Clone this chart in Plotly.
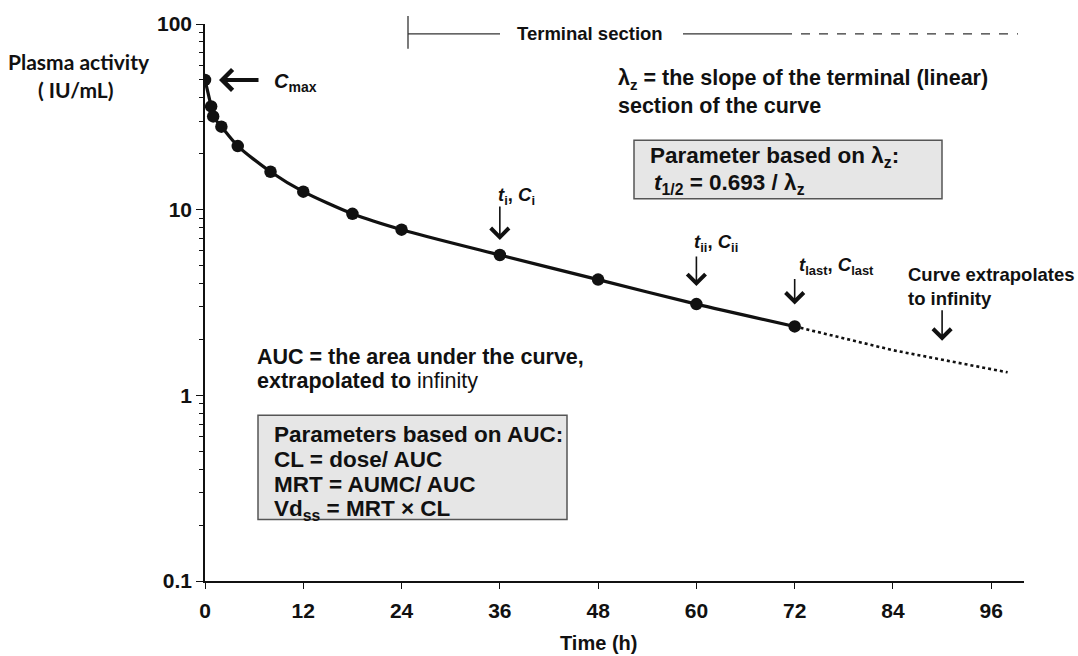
import numpy as np
import plotly.graph_objects as go

# ---- data ----
time_h = [0, 0.75, 1, 2, 4, 8, 12, 18, 24, 36, 48, 60, 72]
activity = [50, 36, 31.8, 28, 22, 16, 12.5, 9.5, 7.8, 5.7, 4.2, 3.1, 2.35]
time_extrap = [72, 84, 98]
activity_extrap = [2.35, 1.75, 1.33]
x_ticks = [0, 12, 24, 36, 48, 60, 72, 84, 96]
y_ticks = [0.1, 1, 10, 100]
y_ticktext = ["0.1", "1", "10", "100"]
y_minor = [m * 10 ** d for d in (-1, 0, 1) for m in range(2, 10)]

# ---- layout geometry ----
W, H = 1078, 656
L, R, T, B = 205, 54, 20, 75
PW, PH = W - L - R, H - T - B


def px(xp):
    return (xp - L) / PW


def py(yp):
    return 1 - (yp - T) / PH


INK = "#111111"
FONT = "Liberation Sans, Arial, sans-serif"

fig = go.Figure()
fig.add_trace(go.Scatter(
    x=time_extrap, y=activity_extrap, mode="lines",
    line=dict(color=INK, width=2.6, dash="dot"), hoverinfo="skip", showlegend=False))
fig.add_trace(go.Scatter(
    x=time_h, y=activity, mode="lines+markers",
    line=dict(color=INK, width=3.2, shape="spline", smoothing=0.7),
    marker=dict(size=12.5, color=INK), showlegend=False))

annotations = []


def text(xp, yp, s, size=17, anchor="left", family=FONT, color=INK):
    annotations.append(dict(
        x=px(xp), y=py(yp), xref="paper", yref="paper", text=s, showarrow=False,
        xanchor=anchor, yanchor="middle", font=dict(family=family, size=size, color=color)))


def arrow(xd, yd, ax, ay, standoff, width=1.6, size=2.2):
    annotations.append(dict(
        x=xd, y=np.log10(yd), xref="x", yref="y", ax=ax, ay=ay, axref="pixel", ayref="pixel",
        text="", showarrow=True, arrowhead=4, arrowwidth=width, arrowsize=size,
        arrowcolor=INK, standoff=standoff, font=dict(size=1)))


# Cmax arrow and label
arrow(time_h[0], activity[0], 55, 0, 14, width=4, size=1.0)
text(272, 79, "<b><i>C</i><sub>max</sub></b>", size=20)

# point labels with down arrows
i36 = time_h.index(36)
i60 = time_h.index(60)
i72 = time_h.index(72)
arrow(time_h[i36], activity[i36], 0, -50, 15)
text(516, 193, "<b><i>t</i><sub>i</sub>, <i>C</i><sub>i</sub></b>", size=18.5, anchor="center")
arrow(time_h[i60], activity[i60], 0, -49, 18)
text(716, 241, "<b><i>t</i><sub>ii</sub>, <i>C</i><sub>ii</sub></b>", size=18.5, anchor="center")
arrow(time_h[i72], activity[i72], 0, -49, 22)
text(836, 264, "<b><i>t</i><sub>last</sub>, <i>C</i><sub>last</sub></b>", size=18.5, anchor="center")

# extrapolation arrow
t_inf = 90
c_inf = 10 ** np.interp(t_inf, time_extrap, np.log10(activity_extrap))
arrow(t_inf, c_inf, 0, -51, 19)
text(906, 272, "<b>Curve extrapolates</b>", size=18.5)
text(906, 296, "<b>to infinity</b>", size=18.5)

# top bracket
text(590, 30, "<b>Terminal section</b>", size=18.5, anchor="center")
text(616, 76, "<b>λ<sub>z</sub> = the slope of the terminal (linear)</b>", size=21.5)
text(616, 103, "<b>section of the curve</b>", size=21.5)

# box 1
text(648, 154, "<b>Parameter based on λ<sub>z</sub>:</b>", size=22.5)
text(652, 181, "<b><i>t</i><sub>1/2</sub> = 0.693 / λ<sub>z</sub></b>", size=22.5)

# AUC text
text(255, 355, "<b>AUC = the area under the curve,</b>", size=21.5)
text(255, 380, "<b>extrapolated to </b>infinity", size=21.5)

# box 2
text(272, 433, "<b>Parameters based on AUC:</b>", size=22.5)
text(272, 459, "<b>CL = dose/ AUC</b>", size=22.5)
text(272, 484, "<b>MRT = AUMC/ AUC</b>", size=22.5)
text(272, 509, "<b>Vd<sub>ss</sub> = MRT × CL</b>", size=22.5)

# y-axis title (two lines)
text(79, 58, "<b>Plasma activity</b>", size=21, anchor="center", family="Lato, Open Sans, sans-serif")
text(76, 86, "<b>( IU/mL)</b>", size=21, anchor="center", family="Lato, Open Sans, sans-serif")
# x-axis title
text(598, 643, "<b>Time (h)</b>", size=20, anchor="center")

shapes = [
    dict(type="rect", xref="paper", yref="paper", x0=px(634), x1=px(942), y0=py(137), y1=py(196),
         fillcolor="#e6e6e6", line=dict(color="#555555", width=1.5), layer="below"),
    dict(type="rect", xref="paper", yref="paper", x0=px(258), x1=px(567), y0=py(414), y1=py(519),
         fillcolor="#e6e6e6", line=dict(color="#555555", width=1.5), layer="below"),
    dict(type="line", xref="paper", yref="paper", x0=px(408), x1=px(408), y0=py(12), y1=py(45),
         line=dict(color="#333333", width=1.3)),
    dict(type="line", xref="paper", yref="paper", x0=px(408), x1=px(500), y0=py(30), y1=py(30),
         line=dict(color="#333333", width=1.3)),
    dict(type="line", xref="paper", yref="paper", x0=px(683), x1=px(783), y0=py(30), y1=py(30),
         line=dict(color="#333333", width=1.3)),
    dict(type="line", xref="paper", yref="paper", x0=px(783), x1=px(1018), y0=py(30), y1=py(30),
         line=dict(color="#333333", width=1.3, dash="dash")),
]

fig.update_layout(
    width=W, height=H, margin=dict(l=L, r=R, t=T, b=B, pad=0),
    paper_bgcolor="white", plot_bgcolor="white",
    annotations=annotations, shapes=shapes, showlegend=False,
    font=dict(family=FONT, color=INK),
)
fig.update_xaxes(
    range=[0, 100], tickmode="array", tickvals=x_ticks,
    ticktext=[f"<b>{v}</b>" for v in x_ticks],
    ticks="outside", ticklen=6, tickwidth=1.3, tickcolor=INK,
    showline=True, linecolor=INK, linewidth=1.6, showgrid=False, zeroline=False,
    tickfont=dict(size=21, family=FONT, color=INK), ticklabelstandoff=4,
)
fig.update_yaxes(
    type="log", range=[-1, 2], tickmode="array", tickvals=y_ticks,
    ticktext=[f"<b>{t}</b>" for t in y_ticktext],
    ticks="outside", ticklen=7, tickwidth=1.3, tickcolor=INK,
    minor=dict(tickmode="array", tickvals=y_minor, ticks="outside", ticklen=4,
               tickwidth=1.2, tickcolor=INK, showgrid=False),
    showline=True, linecolor=INK, linewidth=1.6, showgrid=False, zeroline=False,
    tickfont=dict(size=21, family=FONT, color=INK),
)

fig.write_html("out.html")
